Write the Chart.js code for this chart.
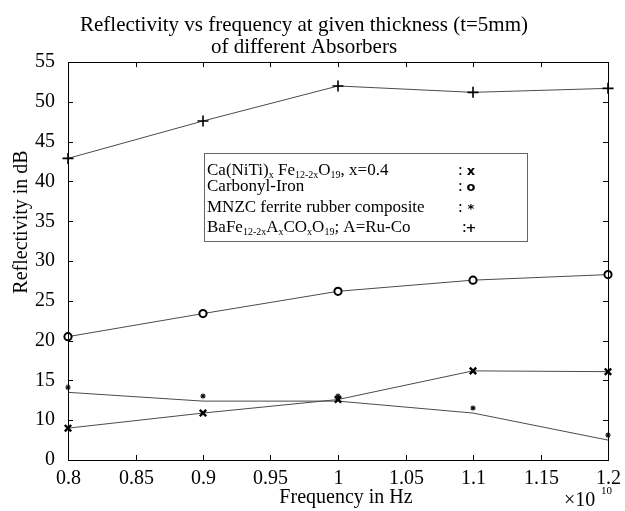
<!DOCTYPE html>
<html>
<head>
<meta charset="utf-8">
<script src="https://cdn.jsdelivr.net/npm/chart.js@4.4.1/dist/chart.umd.min.js"></script>
<style>
  html, body { margin: 0; padding: 0; background: #fff; }
</style>
</head>
<body>
<canvas id="reflChart" width="625" height="511"></canvas>
<script>
// Frequency values (x 10^10 Hz)
const frequencies = [0.8, 0.9, 1.0, 1.1, 1.2];

// Reflectivity in dB for each absorber
const caNiTi = [9.0, 10.9, 12.6, 16.2, 16.1];
const carbonylIron = [20.5, 23.4, 26.2, 27.6, 28.3];
const mnzcRubber = [13.5, 12.4, 12.4, 10.9, 7.5];
const baFeRuCo = [42.9, 47.6, 52.0, 51.2, 51.7];

const seriesNames = ['Ca(NiTi)x Fe12-2xO19, x=0.4', 'Carbonyl-Iron', 'MNZC ferrite rubber composite', 'BaFe12-2xAxCOxO19; A=Ru-Co'];

// tick labels as printed on the figure
const xTickLabels = ['0.8', '0.85', '0.9', '0.95', '1', '1.05', '1.1', '1.15', '1.2'];
const yTickLabels = ['0', '10', '15', '20', '25', '30', '35', '40', '45', '50', '55'];

// legend rows: [text, isSubscript] pieces + marker glyph
const legendRows = [
    { parts: [['Ca(NiTi)', 0], ['x', 1], [' Fe', 0], ['12-2x', 1], ['O', 0], ['19', 1], [', x=0.4', 0]], mark: 'x' },
    { parts: [['Carbonyl-Iron', 0]], mark: 'o' },
    { parts: [['MNZC ferrite rubber composite', 0]], mark: '*' },
    { parts: [['BaFe', 0], ['12-2x', 1], ['A', 0], ['x', 1], ['CO', 0], ['x', 1], ['O', 0], ['19', 1], ['; A=Ru-Co', 0]], mark: '+' }
];

const SERIF = '"Liberation Serif", "Times New Roman", serif';
const LINE_COLOR = '#4a4a4a';

function toPoints(values) {
    return frequencies.map((f, i) => ({ x: f, y: values[i] }));
}

// small asterisk marker, drawn a little above the data point like the original
function makeStar() {
    const c = document.createElement('canvas');
    c.width = 16;
    c.height = 16;
    const g = c.getContext('2d');
    g.strokeStyle = '#000';
    g.lineWidth = 1.2;
    const cx = 8, cy = 3, r = 2.6;
    for (let k = 0; k < 4; k++) {
        const a = k * Math.PI / 4;
        g.beginPath();
        g.moveTo(cx - r * Math.cos(a), cy - r * Math.sin(a));
        g.lineTo(cx + r * Math.cos(a), cy + r * Math.sin(a));
        g.stroke();
    }
    return c;
}

// frame, inward ticks, x tick labels, axis titles and the boxed legend
const figurePlugin = {
    id: 'figure',
    afterDatasetsDraw(chart) {
        const { ctx, chartArea: a, scales } = chart;
        ctx.save();
        ctx.strokeStyle = '#000';
        ctx.lineWidth = 1;
        ctx.strokeRect(Math.round(a.left) + 0.5, Math.round(a.top) + 0.5, Math.round(a.right - a.left), Math.round(a.bottom - a.top));

        const tl = 5;
        ctx.fillStyle = '#000';
        ctx.font = '20px ' + SERIF;
        ctx.textAlign = 'center';
        ctx.textBaseline = 'middle';
        scales.x.ticks.forEach((t, i) => {
            const px = Math.round(scales.x.getPixelForValue(t.value)) + 0.5;
            ctx.beginPath();
            ctx.moveTo(px, a.bottom); ctx.lineTo(px, a.bottom - tl);
            ctx.moveTo(px, a.top); ctx.lineTo(px, a.top + tl);
            ctx.stroke();
            ctx.fillText(xTickLabels[i], px, a.bottom + 19);
        });
        scales.y.ticks.forEach(t => {
            const py = Math.round(scales.y.getPixelForValue(t.value)) + 0.5;
            ctx.beginPath();
            ctx.moveTo(a.left, py); ctx.lineTo(a.left + tl, py);
            ctx.moveTo(a.right, py); ctx.lineTo(a.right - tl, py);
            ctx.stroke();
        });

        // axis titles
        ctx.font = '20px ' + SERIF;
        ctx.fillText('Frequency in Hz', 346, 498);
        ctx.save();
        ctx.translate(22, 222);
        ctx.rotate(-Math.PI / 2);
        ctx.fillText('Reflectivity in dB', 0, 0);
        ctx.restore();

        // x10^10 multiplier
        ctx.textAlign = 'left';
        ctx.textBaseline = 'alphabetic';
        ctx.font = '20px ' + SERIF;
        ctx.fillText('\u00d710', 564, 506);
        ctx.font = '11px ' + SERIF;
        ctx.fillText('10', 601, 494);

        // legend box
        ctx.fillStyle = '#fff';
        ctx.fillRect(204, 153, 324, 89);
        ctx.strokeStyle = '#666';
        ctx.strokeRect(204.5, 153.5, 323, 88);

        const baselines = [175, 191, 212, 232];
        legendRows.forEach((row, i) => {
            let x = 207;
            const y = baselines[i];
            ctx.fillStyle = '#000';
            row.parts.forEach(([txt, sub]) => {
                ctx.font = (sub ? '10px ' : '17px ') + SERIF;
                ctx.fillText(txt, x, sub ? y + 3 : y);
                x += ctx.measureText(txt).width;
            });
            ctx.font = '17px ' + SERIF;
            ctx.fillText(':', i === 3 ? 462 : 458, y);
            ctx.font = 'bold 13px "DejaVu Sans", sans-serif';
            ctx.textAlign = 'center';
            ctx.fillText(row.mark, 471, row.mark === '*' ? y + 1 : y);
            ctx.textAlign = 'left';
        });
        ctx.restore();
    }
};

const ctx = document.getElementById('reflChart');

new Chart(ctx, {
    type: 'line',
    data: {
        datasets: [
            {
                label: seriesNames[0],
                data: toPoints(caNiTi),
                borderColor: LINE_COLOR,
                pointStyle: 'crossRot',
                pointRadius: 4.5,
                pointBorderWidth: 2.4,
                pointBorderColor: '#000',
                pointBackgroundColor: '#000'
            },
            {
                label: seriesNames[1],
                data: toPoints(carbonylIron),
                borderColor: LINE_COLOR,
                pointStyle: 'circle',
                pointRadius: 3.6,
                pointBorderWidth: 2,
                pointBorderColor: '#000',
                pointBackgroundColor: '#fff'
            },
            {
                label: seriesNames[2],
                data: toPoints(mnzcRubber),
                borderColor: LINE_COLOR,
                pointStyle: makeStar(),
                pointRadius: 8,
                pointBorderColor: '#000',
                pointBackgroundColor: '#000'
            },
            {
                label: seriesNames[3],
                data: toPoints(baFeRuCo),
                borderColor: LINE_COLOR,
                pointStyle: 'cross',
                pointRadius: 5.5,
                pointBorderWidth: 1.6,
                pointBorderColor: '#000',
                pointBackgroundColor: '#000'
            }
        ]
    },
    options: {
        responsive: false,
        animation: false,
        devicePixelRatio: 1,
        datasets: {
            line: {
                borderWidth: 1,
                tension: 0,
                fill: false,
                clip: false
            }
        },
        layout: {
            padding: { left: 0, right: 17, top: 0, bottom: 0 }
        },
        scales: {
            x: {
                type: 'linear',
                min: 0.8,
                max: 1.2,
                afterFit: function(scale) { scale.height = 51; },
                grid: { display: false },
                border: { display: false },
                ticks: {
                    display: false,
                    stepSize: 0.05,
                    autoSkip: false,
                    maxRotation: 0
                }
            },
            y: {
                min: 5,
                max: 55,
                afterFit: function(scale) { scale.width = 68; },
                grid: { display: false },
                border: { display: false },
                ticks: {
                    stepSize: 5,
                    padding: 5,
                    color: '#000',
                    font: { family: SERIF, size: 20 },
                    callback: function(value, index) { return yTickLabels[index]; }
                }
            }
        },
        plugins: {
            legend: { display: false },
            tooltip: { enabled: false },
            title: {
                display: true,
                text: ['Reflectivity vs frequency at given thickness (t=5mm)', 'of different Absorbers'],
                color: '#000',
                font: { family: SERIF, size: 21, weight: 'normal', lineHeight: 1.05 },
                padding: { top: 14, bottom: 4 }
            }
        }
    },
    plugins: [figurePlugin]
});
</script>
</body>
</html>
